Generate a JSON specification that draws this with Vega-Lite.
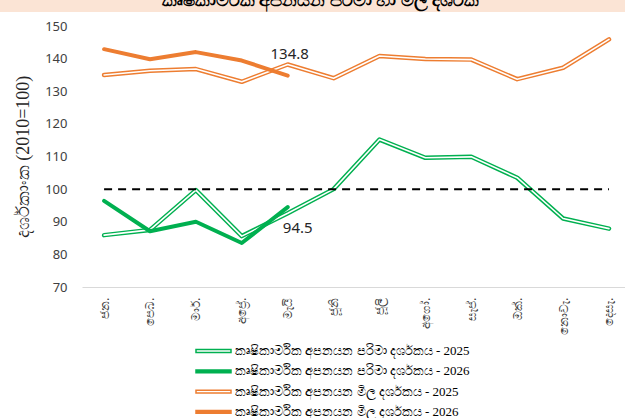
{
  "$schema": "https://vega.github.io/schema/vega-lite/v6.json",
  "autosize": {"type": "none"},
  "padding": {"left": 0, "top": 26, "right": 0, "bottom": 131},
  "background": "white",
  "width": 625,
  "height": 261,
  "config": {"view": {"stroke": null}, "font": "Liberation Serif", "axisY": {"labelOverlap": false}},
  "data": {
    "values": [
      {"month": "ජන.", "series": "කෘෂිකාර්මික අපනයන පරිමා දර්ශකය - 2025", "year": 2025, "value": 85.9},
      {"month": "පෙබ.", "series": "කෘෂිකාර්මික අපනයන පරිමා දර්ශකය - 2025", "year": 2025, "value": 87.5},
      {"month": "මාර්.", "series": "කෘෂිකාර්මික අපනයන පරිමා දර්ශකය - 2025", "year": 2025, "value": 99.7},
      {"month": "අප්‍රේ.", "series": "කෘෂිකාර්මික අපනයන පරිමා දර්ශකය - 2025", "year": 2025, "value": 85.6},
      {"month": "මැයි", "series": "කෘෂිකාර්මික අපනයන පරිමා දර්ශකය - 2025", "year": 2025, "value": 92.6},
      {"month": "ජූනි", "series": "කෘෂිකාර්මික අපනයන පරිමා දර්ශකය - 2025", "year": 2025, "value": 100.0},
      {"month": "ජූලි", "series": "කෘෂිකාර්මික අපනයන පරිමා දර්ශකය - 2025", "year": 2025, "value": 115.2},
      {"month": "අගෝ.", "series": "කෘෂිකාර්මික අපනයන පරිමා දර්ශකය - 2025", "year": 2025, "value": 109.6},
      {"month": "සැප්.", "series": "කෘෂිකාර්මික අපනයන පරිමා දර්ශකය - 2025", "year": 2025, "value": 109.9},
      {"month": "ඔක්.", "series": "කෘෂිකාර්මික අපනයන පරිමා දර්ශකය - 2025", "year": 2025, "value": 103.5},
      {"month": "නොවැ.", "series": "කෘෂිකාර්මික අපනයන පරිමා දර්ශකය - 2025", "year": 2025, "value": 91.0},
      {"month": "දෙසැ.", "series": "කෘෂිකාර්මික අපනයන පරිමා දර්ශකය - 2025", "year": 2025, "value": 87.9},
      {"month": "ජන.", "series": "කෘෂිකාර්මික අපනයන පරිමා දර්ශකය - 2026", "year": 2026, "value": 96.4},
      {"month": "පෙබ.", "series": "කෘෂිකාර්මික අපනයන පරිමා දර්ශකය - 2026", "year": 2026, "value": 87.1},
      {"month": "මාර්.", "series": "කෘෂිකාර්මික අපනයන පරිමා දර්ශකය - 2026", "year": 2026, "value": 90.0},
      {"month": "අප්‍රේ.", "series": "කෘෂිකාර්මික අපනයන පරිමා දර්ශකය - 2026", "year": 2026, "value": 83.5},
      {"month": "මැයි", "series": "කෘෂිකාර්මික අපනයන පරිමා දර්ශකය - 2026", "year": 2026, "value": 94.5},
      {"month": "ජන.", "series": "කෘෂිකාර්මික අපනයන මිල දර්ශකය - 2025", "year": 2025, "value": 135.0},
      {"month": "පෙබ.", "series": "කෘෂිකාර්මික අපනයන මිල දර්ශකය - 2025", "year": 2025, "value": 136.3},
      {"month": "මාර්.", "series": "කෘෂිකාර්මික අපනයන මිල දර්ශකය - 2025", "year": 2025, "value": 136.8},
      {"month": "අප්‍රේ.", "series": "කෘෂිකාර්මික අපනයන මිල දර්ශකය - 2025", "year": 2025, "value": 132.9},
      {"month": "මැයි", "series": "කෘෂිකාර්මික අපනයන මිල දර්ශකය - 2025", "year": 2025, "value": 138.2},
      {"month": "ජූනි", "series": "කෘෂිකාර්මික අපනයන මිල දර්ශකය - 2025", "year": 2025, "value": 134.0},
      {"month": "ජූලි", "series": "කෘෂිකාර්මික අපනයන මිල දර්ශකය - 2025", "year": 2025, "value": 140.8},
      {"month": "අගෝ.", "series": "කෘෂිකාර්මික අපනයන මිල දර්ශකය - 2025", "year": 2025, "value": 139.9},
      {"month": "සැප්.", "series": "කෘෂිකාර්මික අපනයන මිල දර්ශකය - 2025", "year": 2025, "value": 139.7},
      {"month": "ඔක්.", "series": "කෘෂිකාර්මික අපනයන මිල දර්ශකය - 2025", "year": 2025, "value": 133.7},
      {"month": "නොවැ.", "series": "කෘෂිකාර්මික අපනයන මිල දර්ශකය - 2025", "year": 2025, "value": 137.2},
      {"month": "දෙසැ.", "series": "කෘෂිකාර්මික අපනයන මිල දර්ශකය - 2025", "year": 2025, "value": 145.9},
      {"month": "ජන.", "series": "කෘෂිකාර්මික අපනයන මිල දර්ශකය - 2026", "year": 2026, "value": 142.9},
      {"month": "පෙබ.", "series": "කෘෂිකාර්මික අපනයන මිල දර්ශකය - 2026", "year": 2026, "value": 139.8},
      {"month": "මාර්.", "series": "කෘෂිකාර්මික අපනයන මිල දර්ශකය - 2026", "year": 2026, "value": 142.0},
      {"month": "අප්‍රේ.", "series": "කෘෂිකාර්මික අපනයන මිල දර්ශකය - 2026", "year": 2026, "value": 139.4},
      {"month": "මැයි", "series": "කෘෂිකාර්මික අපනයන මිල දර්ශකය - 2026", "year": 2026, "value": 134.8}
    ]
  },
  "layer": [
    {
      "data": {"values": [{"t": "කෘෂිකාර්මික අපනයන පරිමා හා මිල දර්ශක"}]},
      "mark": {"type": "rect", "color": "#fbe4d5"},
      "encoding": {
        "y": {"datum": 158.2, "type": "quantitative", "scale": {"domain": [70, 150], "nice": false, "zero": false}, "axis": {"title": "දර්ශකාංක  (2010=100)", "offset": -82, "values": [70, 80, 90, 100, 110, 120, 130, 140, 150], "labelOverlap": false, "domain": false, "ticks": false, "grid": false, "labelPadding": 15, "labelFontSize": 13, "labelColor": "#404040", "labelFont": "Noto Sans", "titleFontSize": 18, "titleFontWeight": "normal", "titleColor": "#262626", "titlePadding": 12, "titleFont": "Liberation Serif"}},
        "y2": {"datum": 154.3}
      }
    },
    {
      "data": {"values": [{"t": "කෘෂිකාර්මික අපනයන පරිමා හා මිල දර්ශක"}]},
      "mark": {"type": "text", "fontSize": 18, "fontWeight": "bold", "baseline": "alphabetic", "dx": 8, "color": "#000000"},
      "encoding": {
        "y": {"datum": 156.0, "type": "quantitative", "scale": {"domain": [70, 150], "nice": false, "zero": false}, "axis": {"title": "දර්ශකාංක  (2010=100)", "offset": -82, "values": [70, 80, 90, 100, 110, 120, 130, 140, 150], "labelOverlap": false, "domain": false, "ticks": false, "grid": false, "labelPadding": 15, "labelFontSize": 13, "labelColor": "#404040", "labelFont": "Noto Sans", "titleFontSize": 18, "titleFontWeight": "normal", "titleColor": "#262626", "titlePadding": 12, "titleFont": "Liberation Serif"}},
        "text": {"field": "t", "type": "nominal"}
      }
    },
    {
      "encoding": {
        "x": {
          "field": "month", "type": "ordinal",
          "sort": ["ජන.", "පෙබ.", "මාර්.", "අප්‍රේ.", "මැයි", "ජූනි", "ජූලි", "අගෝ.", "සැප්.", "ඔක්.", "නොවැ.", "දෙසැ."],
          "scale": {"type": "point", "range": [82, 625], "padding": 0.415, "align": 0.58},
          "axis": {"title": null, "labelAngle": -90, "domainColor": "#d9d9d9", "domainWidth": 1, "ticks": false, "grid": false, "labelPadding": 10, "labelFontSize": 12, "labelColor": "#404040", "labelFont": "Noto Sans"}
        },
        "y": {
          "field": "value", "type": "quantitative",
          "scale": {"domain": [70, 150], "nice": false, "zero": false},
          "axis": {"title": "දර්ශකාංක  (2010=100)", "offset": -82, "values": [70, 80, 90, 100, 110, 120, 130, 140, 150], "labelOverlap": false, "domain": false, "ticks": false, "grid": false, "labelPadding": 15, "labelFontSize": 13, "labelColor": "#404040", "labelFont": "Noto Sans", "titleFontSize": 18, "titleFontWeight": "normal", "titleColor": "#262626", "titlePadding": 12, "titleFont": "Liberation Serif"}
        }
      },
      "layer": [
        {
          "transform": [{"filter": "datum.year == 2025"}],
          "mark": {"type": "line", "strokeWidth": 4.5, "strokeCap": "round", "strokeJoin": "round"},
          "encoding": {
            "color": {
              "field": "series", "type": "nominal",
              "scale": {
                "domain": ["කෘෂිකාර්මික අපනයන පරිමා දර්ශකය - 2025", "කෘෂිකාර්මික අපනයන පරිමා දර්ශකය - 2026", "කෘෂිකාර්මික අපනයන මිල දර්ශකය - 2025", "කෘෂිකාර්මික අපනයන මිල දර්ශකය - 2026"],
                "range": ["#00b050", "#00b050", "#ed7d31", "#ed7d31"]
              },
              "legend": {
                "title": null, "orient": "none", "legendX": 205.5, "legendY": 317, "direction": "vertical",
                "symbolType": "M-2.5,-0.2H2.5V0.2H-2.5Z", "symbolSize": 196, "symbolStrokeWidth": 1.5,
                "labelOffset": 13.5, "labelFontSize": 13, "labelFont": "Liberation Serif", "labelColor": "#000000",
                "rowPadding": 5.3, "padding": 0, "labelLimit": 0,
                "encode": {"symbols": {"update": {
                  "fill": {"signal": "indexof(datum.value, '2026') >= 0 ? scale('color', datum.value) : 'white'"},
                  "stroke": {"signal": "scale('color', datum.value)"}
                }}}
              }
            }
          }
        },
        {
          "transform": [{"filter": "datum.year == 2025"}],
          "mark": {"type": "line", "strokeWidth": 1.6, "color": "white", "strokeCap": "round", "strokeJoin": "round"},
          "encoding": {"detail": {"field": "series", "type": "nominal"}}
        },
        {
          "transform": [{"filter": "datum.series == 'කෘෂිකාර්මික අපනයන පරිමා දර්ශකය - 2025'"}],
          "mark": {"type": "line", "strokeDash": [8, 6], "strokeWidth": 2, "color": "#000000"},
          "encoding": {"y": {"datum": 100}}
        },
        {
          "transform": [{"filter": "datum.year == 2026"}],
          "mark": {"type": "line", "strokeWidth": 4, "strokeCap": "round", "strokeJoin": "round"},
          "encoding": {"color": {"field": "series", "type": "nominal"}}
        },
        {
          "transform": [{"filter": "datum.year == 2026 && datum.month == 'මැයි' && datum.value > 120"}],
          "mark": {"type": "text", "fontSize": 15, "font": "Noto Sans", "color": "#262626", "dx": 2, "dy": -22},
          "encoding": {"text": {"field": "value", "type": "quantitative", "format": ".1f"}}
        },
        {
          "transform": [{"filter": "datum.year == 2026 && datum.month == 'මැයි' && datum.value < 120"}],
          "mark": {"type": "text", "fontSize": 15, "font": "Noto Sans", "color": "#262626", "dx": 10, "dy": 21},
          "encoding": {"text": {"field": "value", "type": "quantitative", "format": ".1f"}}
        }
      ]
    }
  ]
}
